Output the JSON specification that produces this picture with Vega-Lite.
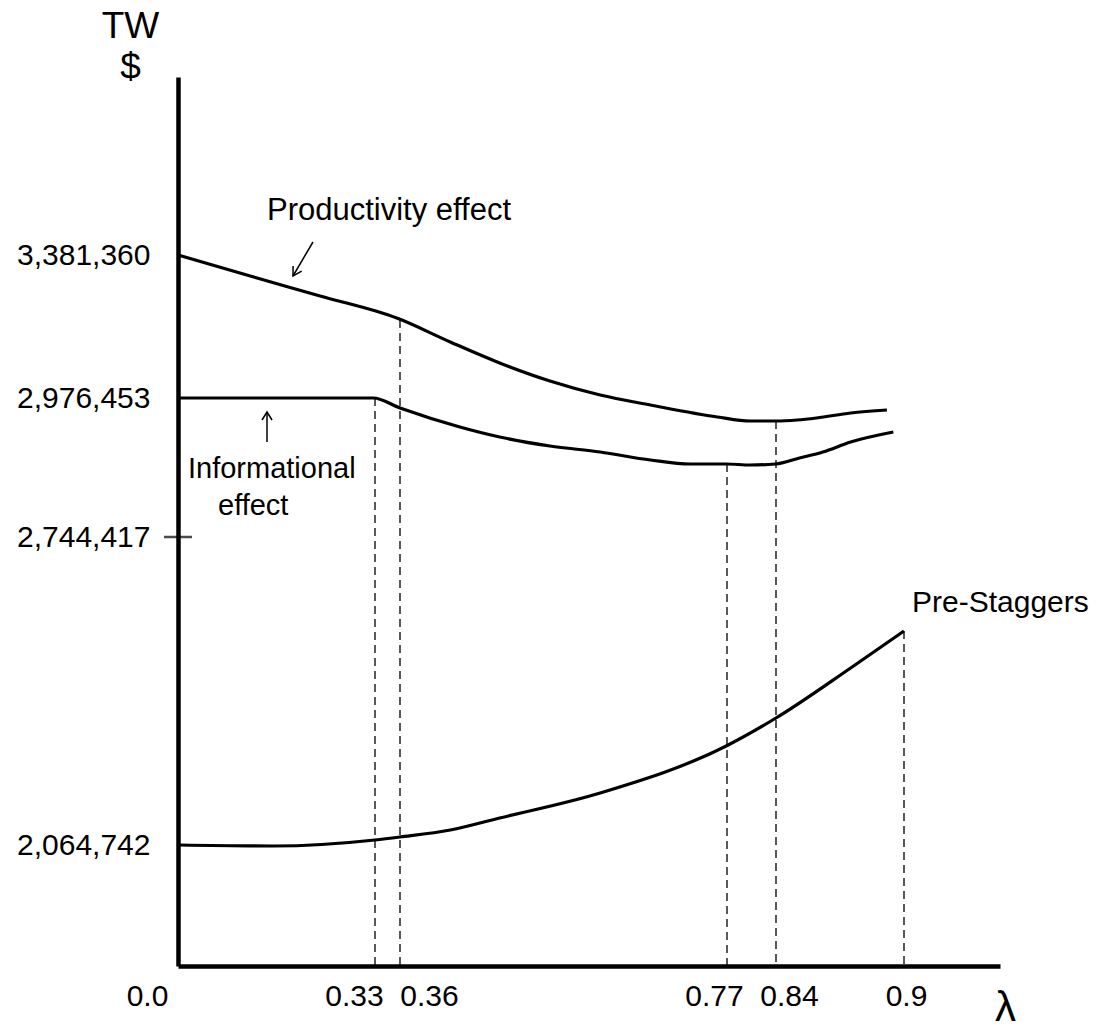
{
  "$schema": "https://vega.github.io/schema/vega-lite/v6.json",
  "width": 822,
  "height": 889,
  "autosize": "none",
  "padding": {"left": 178, "top": 77, "right": 105, "bottom": 62},
  "background": "white",
  "config": {"view": {"stroke": null}, "font": "Liberation Sans"},
  "datasets": {
    "curves": [
      {"s": "prod", "lam": 0, "tw": 3381360},
      {"s": "prod", "lam": 0.121, "tw": 3321900},
      {"s": "prod", "lam": 0.238, "tw": 3265270},
      {"s": "prod", "lam": 0.357, "tw": 3202000},
      {"s": "prod", "lam": 0.423, "tw": 3135020},
      {"s": "prod", "lam": 0.485, "tw": 3075560},
      {"s": "prod", "lam": 0.548, "tw": 3024590},
      {"s": "prod", "lam": 0.611, "tw": 2984950},
      {"s": "prod", "lam": 0.674, "tw": 2964770},
      {"s": "prod", "lam": 0.758, "tw": 2944740},
      {"s": "prod", "lam": 0.803, "tw": 2938060},
      {"s": "prod", "lam": 0.839, "tw": 2938060},
      {"s": "prod", "lam": 0.85, "tw": 2939730},
      {"s": "prod", "lam": 0.859, "tw": 2943070},
      {"s": "prod", "lam": 0.875, "tw": 2951410},
      {"s": "prod", "lam": 0.892, "tw": 2956420},
      {"s": "info", "lam": 0, "tw": 2976453},
      {"s": "info", "lam": 0.327, "tw": 2976453},
      {"s": "info", "lam": 0.36, "tw": 2959760},
      {"s": "info", "lam": 0.435, "tw": 2928043},
      {"s": "info", "lam": 0.485, "tw": 2911350},
      {"s": "info", "lam": 0.548, "tw": 2896327},
      {"s": "info", "lam": 0.611, "tw": 2886311},
      {"s": "info", "lam": 0.674, "tw": 2872956},
      {"s": "info", "lam": 0.724, "tw": 2866279},
      {"s": "info", "lam": 0.769, "tw": 2866279},
      {"s": "info", "lam": 0.803, "tw": 2864610},
      {"s": "info", "lam": 0.839, "tw": 2866279},
      {"s": "info", "lam": 0.851, "tw": 2876295},
      {"s": "info", "lam": 0.862, "tw": 2886311},
      {"s": "info", "lam": 0.875, "tw": 2903004},
      {"s": "info", "lam": 0.895, "tw": 2919697},
      {"s": "pre", "lam": 0, "tw": 2064742},
      {"s": "pre", "lam": 0.159, "tw": 2062535},
      {"s": "pre", "lam": 0.33, "tw": 2075775},
      {"s": "pre", "lam": 0.36, "tw": 2082395},
      {"s": "pre", "lam": 0.423, "tw": 2097843},
      {"s": "pre", "lam": 0.485, "tw": 2124334},
      {"s": "pre", "lam": 0.611, "tw": 2179502},
      {"s": "pre", "lam": 0.769, "tw": 2283217},
      {"s": "pre", "lam": 0.84, "tw": 2345004},
      {"s": "pre", "lam": 0.875, "tw": 2455339},
      {"s": "pre", "lam": 0.9, "tw": 2536987}
    ],
    "guides": [
      {"lam": 0.33, "tw": 2976453},
      {"lam": 0.36, "tw": 3197000},
      {"lam": 0.77, "tw": 2866279},
      {"lam": 0.84, "tw": 2938060},
      {"lam": 0.9, "tw": 2536987}
    ],
    "arrows": [
      {"a": "p1", "ord": 1, "lam": 0.2261, "tw": 3404633},
      {"a": "p1", "ord": 2, "lam": 0.1926, "tw": 3321898},
      {"a": "p2", "ord": 1, "lam": 0.2072, "tw": 3335773},
      {"a": "p2", "ord": 2, "lam": 0.1926, "tw": 3321898},
      {"a": "p2", "ord": 3, "lam": 0.1928, "tw": 3350214},
      {"a": "i1", "ord": 1, "lam": 0.1491, "tw": 2903004},
      {"a": "i1", "ord": 2, "lam": 0.1491, "tw": 2953083},
      {"a": "i2", "ord": 1, "lam": 0.1407, "tw": 2939728},
      {"a": "i2", "ord": 2, "lam": 0.1491, "tw": 2953083},
      {"a": "i2", "ord": 3, "lam": 0.1575, "tw": 2939728}
    ]
  },
  "encoding": {
    "x": {
      "field": "lam",
      "type": "quantitative",
      "scale": {"domain": [0, 0.33, 0.36, 0.77, 0.84, 0.9, 1.0], "range": [0, 197, 222, 549, 598, 726, 822], "zero": false, "nice": false},
      "axis": {
        "values": [0, 0.33, 0.36, 0.77, 0.84, 0.9],
        "labelExpr": "datum.value === 0 ? '0.0' : format(datum.value, '.2~f')",
        "grid": false,
        "ticks": false,
        "domainColor": "black",
        "domainWidth": 4.5,
        "labelFontSize": 30,
        "labelColor": "black",
        "labelPadding": 15,
        "labelOverlap": false,
        "labelFlush": false,
        "labelBound": false,
        "labelOffset": {"condition": [
          {"test": "datum.value === 0", "value": -31},
          {"test": "datum.value === 0.33", "value": -21},
          {"test": "datum.value === 0.36", "value": 29},
          {"test": "datum.value === 0.77", "value": -13},
          {"test": "datum.value === 0.84", "value": 13}
        ], "value": 2},
        "title": "λ",
        "titleFontSize": 42,
        "titleFontWeight": "normal",
        "titleColor": "black",
        "titleX": 827,
        "titleY": 54,
        "titleAlign": "center",
        "titleBaseline": "alphabetic"
      }
    },
    "y": {
      "field": "tw",
      "type": "quantitative",
      "scale": {"domain": [1800000, 2064742, 2744417, 2976453, 3381360, 3700000], "range": [889, 768, 460, 321, 178, 0], "zero": false, "nice": false},
      "axis": {
        "values": [2064742, 2744417, 2976453, 3381360],
        "format": ",d",
        "grid": false,
        "ticks": false,
        "domainColor": "black",
        "domainWidth": 4.5,
        "labelFontSize": 30,
        "labelColor": "black",
        "labelPadding": 28,
        "labelOverlap": false,
        "labelBound": false,
        "title": ["TW", "$"],
        "titleAngle": 0,
        "titleFontSize": 37,
        "titleLineHeight": 41,
        "titleFontWeight": "normal",
        "titleColor": "black",
        "titleX": -48,
        "titleY": -40,
        "titleAlign": "center",
        "titleBaseline": "alphabetic"
      }
    }
  },
  "layer": [
    {
      "data": {"name": "guides"},
      "mark": {"type": "rule", "color": "black", "strokeWidth": 1.3, "strokeDash": [8, 5]},
      "encoding": {"y2": {"datum": 1800000}}
    },
    {
      "data": {"name": "curves"},
      "mark": {"type": "line", "color": "black", "strokeWidth": 3.2, "interpolate": "monotone"},
      "encoding": {"detail": {"field": "s"}}
    },
    {
      "data": {"name": "arrows"},
      "mark": {"type": "line", "color": "black", "strokeWidth": 1.5},
      "encoding": {"detail": {"field": "a"}, "order": {"field": "ord"}}
    },
    {
      "data": {"values": [{"lam": 0, "tw": 2744417}]},
      "mark": {"type": "point", "shape": "stroke", "size": 784, "color": "black", "strokeWidth": 2.5, "filled": false}
    },
    {
      "data": {"values": [{"txt": "Productivity effect", "lam": 0.149, "tw": 3460000}]},
      "mark": {"type": "text", "align": "left", "baseline": "middle", "fontSize": 31, "color": "black"},
      "encoding": {"text": {"field": "txt"}}
    },
    {
      "data": {"values": [{"txt": "Informational", "lam": 0.01675, "tw": 2857900}, {"txt": "effect", "lam": 0.067, "tw": 2796200}]},
      "mark": {"type": "text", "align": "left", "baseline": "middle", "fontSize": 29, "color": "black"},
      "encoding": {"text": {"field": "txt"}}
    },
    {
      "data": {"values": [{"txt": "Pre-Staggers", "lam": 0.9, "tw": 2536987}]},
      "mark": {"type": "text", "align": "left", "baseline": "middle", "fontSize": 30, "color": "black", "dx": 8, "dy": -28},
      "encoding": {"text": {"field": "txt"}}
    }
  ]
}
